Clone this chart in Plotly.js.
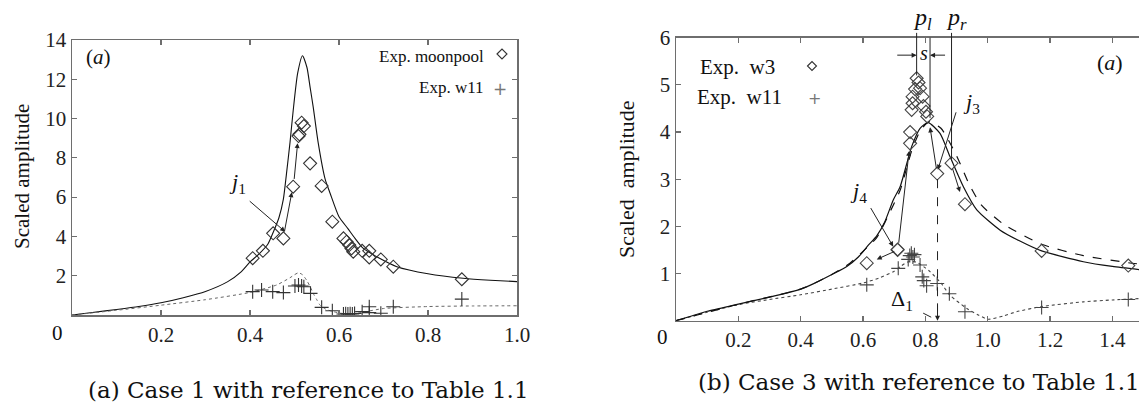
<!DOCTYPE html>
<html>
<head>
<meta charset="utf-8">
<script src="https://cdn.plot.ly/plotly-3.0.1.min.js"></script>
<style>html,body{margin:0;padding:0;background:#fff;}#chart{width:1139px;height:405px;}</style>
</head>
<body>
<div id="chart"></div>
<script>
// ---------- Panel (a): Case 1 ----------
const theoryAX = [0,0.05,0.1,0.15,0.2,0.25,0.3,0.35,0.38,0.4,0.42,0.44,0.452,0.465,0.475,0.482,0.49,0.497,0.507,0.518,0.528,0.535,0.542,0.553,0.569,0.58,0.6,0.62,0.636,0.654,0.69,0.73,0.8,0.879,0.94,1.0];
const theoryAY = [0,0.14,0.28,0.43,0.62,0.88,1.2,1.7,2.2,2.7,3.1,3.6,4.2,4.95,5.9,7.2,8.8,10.4,12.3,13.2,12.6,11.6,10.6,8.8,6.9,6.2,5.0,4.4,3.9,3.4,2.9,2.46,2.1,1.87,1.77,1.70];
const w11AX = [0,0.1,0.2,0.3,0.4,0.46,0.49,0.5,0.509,0.518,0.527,0.535,0.542,0.55,0.557,0.57,0.587,0.61,0.63,0.66,0.7,0.8,0.9,1.0];
const w11AY = [0,0.24,0.5,0.78,1.15,1.53,1.9,2.05,2.15,2.05,1.78,1.45,1.1,0.78,0.51,0.3,0.17,0.07,0.05,0.17,0.33,0.43,0.46,0.47];
const moonX = [0.406,0.429,0.452,0.475,0.497,0.509,0.511,0.516,0.521,0.535,0.561,0.585,0.61,0.617,0.623,0.628,0.632,0.652,0.668,0.668,0.694,0.722,0.876];
const moonY = [2.89,3.27,4.16,3.90,6.53,9.11,9.2,9.79,9.62,7.72,6.57,4.75,3.90,3.73,3.56,3.39,3.22,3.27,3.27,2.93,2.83,2.46,1.82];
const expW11AX = [0.406,0.426,0.451,0.475,0.501,0.509,0.516,0.521,0.536,0.561,0.585,0.61,0.615,0.62,0.625,0.63,0.635,0.652,0.668,0.668,0.694,0.722,0.876];
const expW11AY = [1.19,1.27,1.19,1.14,1.48,1.53,1.48,1.44,1.10,0.39,0.22,0.05,0.06,0.05,0.07,0.05,0.08,0.17,0.42,0.12,0.09,0.42,0.81];
const xTicksA = [0.2,0.4,0.6,0.8,1.0];
const xTickTextA = ['0.2','0.4','0.6','0.8','1.0'];
const yTicksA = [2,4,6,8,10,12,14];

// ---------- Panel (b): Case 3 ----------
const solidBX = [0,0.05,0.1,0.2,0.3,0.4,0.44,0.5,0.548,0.585,0.617,0.644,0.67,0.697,0.719,0.756,0.783,0.809,0.847,0.879,0.922,0.965,1.04,1.1,1.173,1.307,1.4,1.49];
const solidBY = [0,0.1,0.2,0.35,0.5,0.67,0.78,0.98,1.15,1.35,1.6,1.8,2.1,2.56,2.84,3.69,4.08,4.2,3.97,3.48,2.84,2.35,1.92,1.7,1.48,1.25,1.15,1.08];
const dashBX = [0,0.2,0.4,0.5,0.558,0.617,0.644,0.697,0.72,0.756,0.783,0.812,0.85,0.9,0.94,0.98,1.05,1.173,1.307,1.45,1.49];
const dashBY = [0,0.35,0.67,0.98,1.22,1.58,1.76,2.45,2.78,3.6,4.02,4.22,4.08,3.5,2.9,2.45,2.05,1.62,1.38,1.23,1.2];
const dotBX = [0,0.1,0.2,0.3,0.4,0.5,0.6,0.65,0.7,0.72,0.745,0.772,0.8,0.815,0.85,0.879,0.933,0.97,1.002,1.05,1.093,1.173,1.307,1.4,1.49];
const dotBY = [0,0.18,0.34,0.45,0.55,0.67,0.8,0.9,1.05,1.15,1.25,1.24,1.12,1.04,0.8,0.54,0.26,0.12,0.03,0.1,0.19,0.30,0.40,0.44,0.47];
const w3X = [0.612,0.711,0.711,0.751,0.751,0.756,0.759,0.759,0.767,0.772,0.778,0.783,0.791,0.794,0.802,0.806,0.838,0.884,0.927,1.173,1.451];
const w3Y = [1.22,1.50,1.51,3.76,4.00,4.47,4.61,4.75,4.91,5.14,5.05,4.93,4.75,4.55,4.43,4.33,3.12,3.34,2.47,1.48,1.17];
const expW11BX = [0.612,0.713,0.745,0.75,0.755,0.76,0.765,0.783,0.79,0.795,0.804,0.838,0.877,0.927,1.173,1.451];
const expW11BY = [0.76,1.11,1.30,1.38,1.43,1.35,1.40,1.18,0.93,0.85,0.74,0.79,0.57,0.19,0.28,0.45];
const xTicksB = [0.2,0.4,0.6,0.8,1.0,1.2,1.4];
const xTickTextB = ['0.2','0.4','0.6','0.8','1.0','1.2','1.4'];
const yTicksB = [1,2,3,4,5,6];

const W = 1139, H = 405;
const PX = p => p / W;
const PY = p => 1 - p / H;
const serif = 'Liberation Serif';
const capFont = 'DejaVu Serif';
const axisCol = '#6e6e6e';

const traces = [
  {x: theoryAX, y: theoryAY, mode: 'lines', line: {color: '#111', width: 1.1, shape: 'spline', smoothing: 0.6}, xaxis: 'x', yaxis: 'y'},
  {x: w11AX, y: w11AY, mode: 'lines', line: {color: '#666', width: 1, dash: 'dot', shape: 'spline', smoothing: 0.6}, xaxis: 'x', yaxis: 'y'},
  {x: moonX, y: moonY, mode: 'markers', marker: {symbol: 'diamond-open', size: 10, color: '#333', line: {width: 1.1, color: '#333'}}, xaxis: 'x', yaxis: 'y'},
  {x: expW11AX, y: expW11AY, mode: 'markers', marker: {symbol: 'cross-thin-open', size: 10, color: '#333', line: {width: 1.1, color: '#333'}}, xaxis: 'x', yaxis: 'y'},
  {x: dotBX, y: dotBY, mode: 'lines', line: {color: '#444', width: 1.1, dash: 'dot', shape: 'spline', smoothing: 0.6}, xaxis: 'x2', yaxis: 'y2'},
  {x: dashBX, y: dashBY, mode: 'lines', line: {color: '#111', width: 1.2, dash: 'dash', shape: 'spline', smoothing: 0.6}, xaxis: 'x2', yaxis: 'y2'},
  {x: solidBX, y: solidBY, mode: 'lines', line: {color: '#111', width: 1.2, shape: 'spline', smoothing: 0.6}, xaxis: 'x2', yaxis: 'y2'},
  {x: w3X, y: w3Y, mode: 'markers', marker: {symbol: 'diamond-open', size: 10, color: '#444', line: {width: 1.1, color: '#444'}}, xaxis: 'x2', yaxis: 'y2'},
  {x: expW11BX, y: expW11BY, mode: 'markers', marker: {symbol: 'cross-thin-open', size: 10, color: '#444', line: {width: 1.1, color: '#444'}}, xaxis: 'x2', yaxis: 'y2'}
];

const axBase = {
  showline: true, linecolor: axisCol, linewidth: 1.5,
  ticks: 'inside', ticklen: 5, tickwidth: 1.2, tickcolor: axisCol,
  showgrid: false, zeroline: false, fixedrange: true,
  tickfont: {family: serif, size: 21, color: '#222'}
};

const YMAXB = 6;
const arrow = (x, y, ax, ay, xr, yr) => ({x: x, y: y, ax: ax, ay: ay, xref: xr, yref: yr, axref: xr, ayref: yr,
  text: '', showarrow: true, arrowhead: 2, arrowsize: 1, arrowwidth: 1, arrowcolor: '#222', standoff: 0, startstandoff: 0});
const txt = (xp, yp, t, size, extra) => Object.assign({x: PX(xp), y: PY(yp), xref: 'paper', yref: 'paper', text: t,
  showarrow: false, font: {family: serif, size: size, color: '#111'}, xanchor: 'center', yanchor: 'middle'}, extra || {});

const annotations = [
  // panel (a)
  txt(22, 177, 'Scaled amplitude', 21, {textangle: -90}),
  txt(57, 333, '0', 21),
  txt(98, 57, '(<i>a</i>)', 21),
  txt(486, 56, 'Exp. moonpool', 17, {xanchor: 'right'}),
  txt(486, 88, 'Exp. w11', 17, {xanchor: 'right'}),
  txt(500, 89, '+', 18, {font: {family: 'DejaVu Sans', size: 17, color: '#777'}}),
  txt(237, 183, '<i>j</i><sub>1</sub>', 22),
  arrow(0.479, 4.24, 0.396, 5.86, 'x', 'y'),
  arrow(0.494, 6.25, 0.477, 4.2, 'x', 'y'),
  arrow(0.507, 8.75, 0.499, 6.85, 'x', 'y'),
  txt(308, 390, '(a) Case 1 with reference to Table 1.1', 23, {font: {family: capFont, size: 23, color: '#111'}}),
  // panel (b)
  txt(626, 179, 'Scaled\u00a0\u00a0amplitude', 22, {textangle: -90}),
  txt(662, 337, '0', 21),
  txt(698, 67, 'Exp.\u00a0\u00a0w3', 21, {xanchor: 'left'}),
  txt(695, 97, 'Exp.\u00a0\u00a0w11', 21, {xanchor: 'left'}),
  txt(814, 98, '+', 16, {font: {family: 'DejaVu Sans', size: 16, color: '#777'}}),
  txt(1110, 62, '(<i>a</i>)', 22),
  txt(922, 19, '<i>p<sub>l</sub></i>', 24),
  txt(956, 19, '<i>p<sub>r</sub></i>', 24),
  txt(924, 53, '<i>s</i>', 20),
  txt(971, 103, '<i>j</i><sub>3</sub>', 22),
  txt(858, 192, '<i>j</i><sub>4</sub>', 22),
  txt(902, 300, 'Δ<sub>1</sub>', 22),
  arrow(0.697, 1.57, 0.622, 2.42, 'x2', 'y2'),
  arrow(0.644, 1.30, 0.705, 1.48, 'x2', 'y2'),
  arrow(0.748, 3.6, 0.714, 1.62, 'x2', 'y2'),
  arrow(0.840, 3.2, 0.900, 4.45, 'x2', 'y2'),
  arrow(0.815, 4.1, 0.836, 3.2, 'x2', 'y2'),
  arrow(0.911, 2.73, 0.886, 3.25, 'x2', 'y2'),
  arrow(0.839, 0.0, 0.839, 0.4, 'x2', 'y2'),
  arrow(0.772, 5.63, 0.705, 5.63, 'x2', 'y2'),
  arrow(0.815, 5.63, 0.868, 5.63, 'x2', 'y2'),
  txt(919, 382, '(b) Case 3 with reference to Table 1.1', 23, {font: {family: capFont, size: 23, color: '#111'}})
];

const vline = (x, y0, y1, dash) => ({type: 'line', xref: 'x2', yref: 'y2 domain', x0: x, x1: x, y0: y0, y1: y1,
  line: {color: '#222', width: 1, dash: dash || 'solid'}});
// legend key diamonds drawn as small paper-space paths
const diamondPath = (cx, cy, r) => {
  const x = PX(cx), y = PY(cy), dx = r / W, dy = r / H;
  return {type: 'path', xref: 'paper', yref: 'paper', line: {color: '#333', width: 1.1},
    path: `M ${x - dx},${y} L ${x},${y + dy} L ${x + dx},${y} L ${x},${y - dy} Z`};
};
const shapes = [
  vline(0.772, 5.2 / YMAXB, 1.017),
  vline(0.815, 4.3 / YMAXB, 1.0),
  vline(0.884, 3.4 / YMAXB, 1.017),
  vline(0.839, 3.0 / YMAXB, 0.2 / YMAXB, 'dash'),
  {type: 'line', xref: 'x2', yref: 'y2', x0: 0.793, y0: 0.16, x1: 0.826, y1: 0.05, line: {color: '#222', width: 1, dash: 'dash'}},
  diamondPath(502, 54, 5),
  diamondPath(812, 66, 4.5)
];

const layout = {
  width: W, height: H,
  margin: {l: 0, r: 0, t: 0, b: 0},
  paper_bgcolor: '#fff', plot_bgcolor: '#fff',
  showlegend: false,
  font: {family: serif},
  xaxis: Object.assign({}, axBase, {domain: [PX(72), PX(517)], range: [0, 1.0], tickvals: xTicksA, ticktext: xTickTextA, mirror: 'ticks', anchor: 'y'}),
  yaxis: Object.assign({}, axBase, {domain: [PY(315), PY(40)], range: [0, 14], tickvals: yTicksA, mirror: 'ticks', anchor: 'x'}),
  xaxis2: Object.assign({}, axBase, {domain: [PX(676), 1], range: [0, (W - 676) / 311.7], tickvals: xTicksB, ticktext: xTickTextB, mirror: 'ticks', anchor: 'y2'}),
  yaxis2: Object.assign({}, axBase, {domain: [PY(320.7), PY(37.7)], range: [0, YMAXB], tickvals: yTicksB, mirror: false, anchor: 'x2'}),
  annotations: annotations,
  shapes: shapes
};

Plotly.newPlot('chart', traces, layout, {displayModeBar: false, staticPlot: true});
</script>
</body>
</html>
